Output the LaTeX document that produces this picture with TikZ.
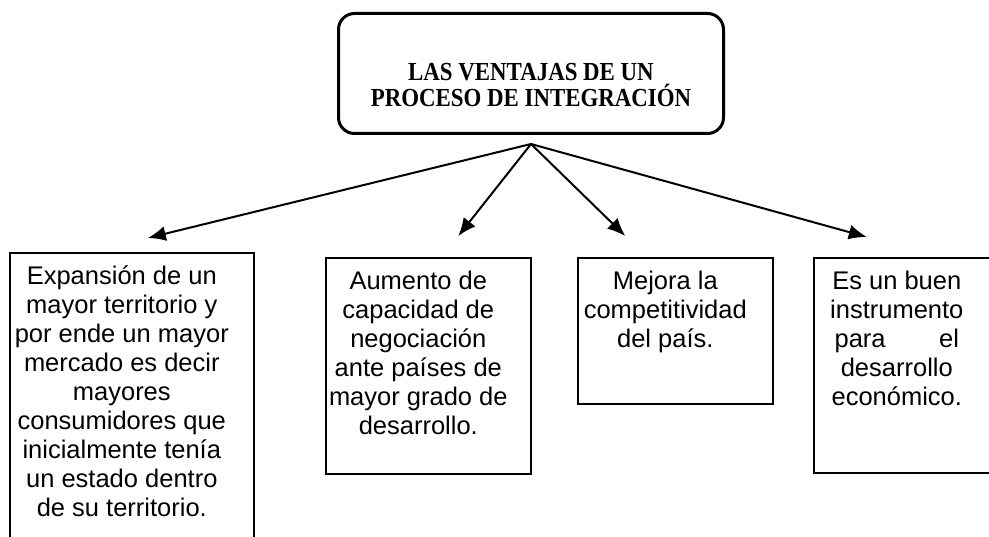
\documentclass[tikz,border=0pt]{standalone}
\usepackage{fontspec}
\setmainfont{Liberation Sans}
\newfontfamily\titlefont[FakeStretch=0.88]{Liberation Serif}
\usepackage{tikz}
\usetikzlibrary{arrows.meta}
\usetikzlibrary{positioning}

\newcommand{\boxtext}[3]{\parbox[c][#2][t]{#1}{\centering\vspace*{13pt}#3}\hspace*{20pt}}

\begin{document}
\begin{tikzpicture}
    [
    x=1pt,y=-1pt,
    topic/.style={draw,line width=3pt,rounded corners=16pt,inner sep=0pt,anchor=north west},
    item/.style={draw,line width=1.6pt,inner sep=0pt,anchor=north west,
      font=\fontsize{25.5}{29}\selectfont},
    link/.style={line width=2pt,-{Latex[length=18pt,width=15pt]}},
    ]
    \useasboundingbox (0,0) rectangle (989,537);
    \clip (0,0) rectangle (989,537);

    \node (title) at (337,12) [topic] {\parbox[c][120pt][t]{385pt}{\centering
      \titlefont\bfseries\fontsize{26}{26}\selectfont\vspace*{50pt}
      LAS VENTAJAS DE UN\\ PROCESO DE INTEGRACIÓN}};

    \node (b1) at (9,252) [item] {\boxtext{224pt}{308pt}{Expansión de un\\ mayor territorio y\\ por ende un mayor\\ mercado es decir\\ mayores\\ consumidores que\\ inicialmente tenía\\ un estado dentro\\ de su territorio.}};
    \node (b2) at (325,257) [item] {\boxtext{185pt}{216pt}{Aumento de\\ capacidad de\\ negociación\\ ante países de\\ mayor grado de\\ desarrollo.}};
    \node (b3) at (577,257) [item] {\boxtext{175pt}{146pt}{Mejora la\\ competitividad\\ del país.}};
    \node (b4) at (813,257) [item] {\boxtext{166pt}{215pt}{Es un buen\\ instrumento\\ para\hspace{2.1em}el\\ desarrollo\\ económico.}};

    \coordinate (top) at ([yshift=-9pt]title.south);
    \coordinate (t1) at ([xshift=16pt,yshift=14pt]b1.north);
    \coordinate (t2) at ([xshift=30pt,yshift=21pt]b2.north);
    \coordinate (t3) at ([xshift=-50pt,yshift=21pt]b3.north);
    \coordinate (t4) at ([xshift=-40pt,yshift=20pt]b4.north);
    \draw [link] (top) to (t1);
    \draw [link] (top) to (t2);
    \draw [link] (top) to (t3);
    \draw [link] (top) to (t4);
\end{tikzpicture}
\end{document}
